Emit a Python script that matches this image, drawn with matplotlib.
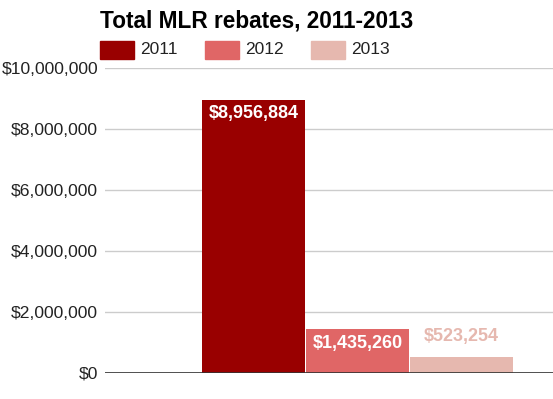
import matplotlib.pyplot as plt
from matplotlib.patches import Rectangle
from matplotlib.ticker import FuncFormatter

# Data
years = ['2011', '2012', '2013']
rebates = [8956884, 1435260, 523254]
colors = ['#990000', '#e06666', '#e6b8af']
label_inside = [True, True, False]

plt.rcParams['font.family'] = ['Liberation Sans', 'DejaVu Sans']

fig = plt.figure(figsize=(5.53, 3.99), dpi=100)
ax = fig.add_axes([105 / 553, 1 - 373 / 399, 448 / 553, 305 / 399])

xs = list(range(len(years)))
ax.bar(xs, rebates, width=0.995, color=colors, zorder=3)

for x, v, c, inside in zip(xs, rebates, colors, label_inside):
    txt = f"${v:,}"
    if inside:
        ax.annotate(txt, (x, v), xytext=(0, -4), textcoords='offset points',
                    ha='center', va='top', color='white', fontsize=13,
                    fontweight='bold', zorder=4)
    else:
        ax.annotate(txt, (x, v), xytext=(0, 9), textcoords='offset points',
                    ha='center', va='bottom', color=c, fontsize=13,
                    fontweight='bold', zorder=4)

ax.set_ylim(0, 10000000)
ax.set_yticks(range(0, 10000001, 2000000))
ax.yaxis.set_major_formatter(FuncFormatter(lambda v, p: f"${int(v):,}"))
ax.set_xlim(-1.437, 2.886)
ax.set_xticks([])
ax.grid(axis='y', color='#cccccc', linewidth=1, zorder=0)
ax.axhline(0, color='#333333', linewidth=1.2, zorder=5)
for s in ax.spines.values():
    s.set_visible(False)
ax.tick_params(axis='y', length=0, pad=5, labelsize=12.6, labelcolor='#222222')

# Title
fig.text(100 / 553, 1 - 21 / 399, 'Total MLR rebates, 2011-2013', fontsize=16.3,
         fontweight='bold', color='black', ha='left', va='center')

# Legend
box_x = [100, 205, 311]
for bx, yr, c in zip(box_x, years, colors):
    fig.patches.append(Rectangle((bx / 553, 1 - 59 / 399), 34 / 553, 18 / 399,
                                 transform=fig.transFigure, color=c))
    fig.text((bx + 40) / 553, 1 - 50 / 399, yr, fontsize=12.5, color='#222222',
             ha='left', va='center')

fig.savefig('out.png', dpi=100)
